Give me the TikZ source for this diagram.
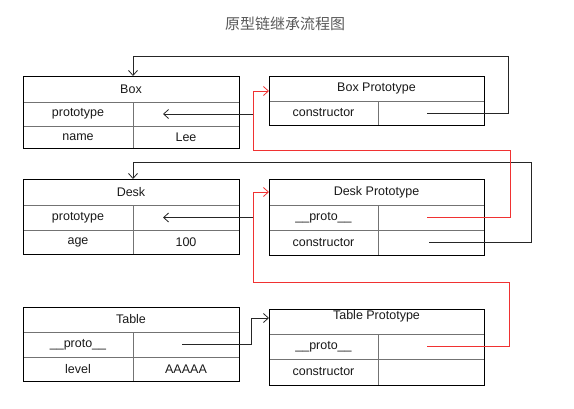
\documentclass[tikz,border=0pt]{standalone}
\usepackage{fontspec}
\setmainfont{Liberation Sans}
\newfontfamily\cjkfont{Noto Sans CJK SC}
\usetikzlibrary{arrows.meta}
\definecolor{linkred}{RGB}{240,50,50}
\tikzset{
  cell/.style={draw=black!55, line width=0.8pt, inner sep=0pt, outer sep=0pt,
    anchor=north west, font=\fontsize{12.5}{14}\selectfont, text=black!90},
  frame/.style={draw=black, line width=0.9pt, inner sep=0pt, outer sep=0pt, anchor=north west},
  conn/.style={draw=black!85, line width=0.8pt},
  redconn/.style={draw=linkred, line width=0.8pt},
  vtip/.style={-{Straight Barb[length=5pt,width=9pt]}}
}
\begin{document}
\begin{tikzpicture}[x=1pt,y=-1pt]
\useasboundingbox (0,0) rectangle (574,408);
\node[font=\cjkfont\fontsize{15}{18}\selectfont, text=black!65] (title) at (285,24) {原型链继承流程图};

% Box
\node[cell, minimum width=216pt, minimum height=26pt] (boxH) at (23,76) {Box};
\node[cell, minimum width=110pt, minimum height=24pt] (boxP1) at (23,102) {prototype};
\node[cell, minimum width=106pt, minimum height=24pt] (boxP2) at (133,102) {};
\node[cell, minimum width=110pt, minimum height=22pt] (boxN1) at (23,126) {name};
\node[cell, minimum width=106pt, minimum height=22pt] (boxN2) at (133,126) {Lee};
\node[frame, minimum width=216pt, minimum height=72pt] (boxF) at (23,76) {};

% Box Prototype
\node[cell, minimum width=215pt, minimum height=25pt] (bpH) at (269,76) {Box Prototype};
\node[cell, minimum width=109pt, minimum height=24pt] (bpC1) at (269,101) {constructor};
\node[cell, minimum width=106pt, minimum height=24pt] (bpC2) at (378,101) {};
\node[frame, minimum width=215pt, minimum height=49pt] (bpF) at (269,76) {};

% Desk
\node[cell, minimum width=216pt, minimum height=26pt] (deskH) at (23,179) {Desk};
\node[cell, minimum width=110pt, minimum height=25pt] (deskP1) at (23,205) {prototype};
\node[cell, minimum width=106pt, minimum height=25pt] (deskP2) at (133,205) {};
\node[cell, minimum width=110pt, minimum height=24pt] (deskA1) at (23,230) {age};
\node[cell, minimum width=106pt, minimum height=24pt] (deskA2) at (133,230) {100};
\node[frame, minimum width=216pt, minimum height=75pt] (deskF) at (23,179) {};

% Desk Prototype
\node[cell, minimum width=215pt, minimum height=26pt] (dpH) at (269,179) {Desk Prototype};
\node[cell, minimum width=109pt, minimum height=25pt] (dpP1) at (269,205) {\_\_proto\_\_};
\node[cell, minimum width=106pt, minimum height=25pt] (dpP2) at (378,205) {};
\node[cell, minimum width=109pt, minimum height=25pt] (dpC1) at (269,230) {constructor};
\node[cell, minimum width=106pt, minimum height=25pt] (dpC2) at (378,230) {};
\node[frame, minimum width=215pt, minimum height=76pt] (dpF) at (269,179) {};

% Table
\node[cell, minimum width=216pt, minimum height=25pt] (tH) at (23,307) {Table};
\node[cell, minimum width=110pt, minimum height=25pt] (tP1) at (23,332) {\_\_proto\_\_};
\node[cell, minimum width=106pt, minimum height=25pt] (tP2) at (133,332) {};
\node[cell, minimum width=110pt, minimum height=24pt] (tL1) at (23,357) {level};
\node[cell, minimum width=106pt, minimum height=24pt] (tL2) at (133,357) {AAAAA};
\node[frame, minimum width=216pt, minimum height=74pt] (tF) at (23,307) {};

% Table Prototype
\node[cell, minimum width=215pt, minimum height=25pt] (tpH) at (269,309) {};
\node[font=\fontsize{12.5}{14}\selectfont, text=black!90, inner sep=0pt] (tpHt) at ([yshift=-7pt]tpH.north) {Table Prototype};
\node[cell, minimum width=109pt, minimum height=25pt] (tpP1) at (269,334) {\_\_proto\_\_};
\node[cell, minimum width=106pt, minimum height=25pt] (tpP2) at (378,334) {};
\node[cell, minimum width=109pt, minimum height=26pt] (tpC1) at (269,359) {constructor};
\node[cell, minimum width=106pt, minimum height=26pt] (tpC2) at (378,359) {};
\node[frame, minimum width=215pt, minimum height=76pt] (tpF) at (269,309) {};

% helper coordinates
\coordinate (busx) at (253,0);
\coordinate (tbend) at (251,0);
\coordinate (k1) at (508,56);
\coordinate (k2) at (531,162);
\coordinate (r1) at (510,150);
\coordinate (r2) at (509,282);
\coordinate (bpIn) at ([yshift=-2.5pt]bpH.west);
\coordinate (dpIn) at (dpH.west);
\coordinate (tpIn) at ([yshift=3.5pt]tpH.west);
\coordinate (boxTip) at ([xshift=-23pt]boxP2.center);
\coordinate (deskTip) at ([xshift=-23pt]deskP2.center);

% prototype pointers
\draw[conn, vtip] (busx |- boxP2.center) -- (boxTip);
\draw[conn, vtip] (busx |- deskP2.center) -- (deskTip);

% constructor loops
\draw[conn, vtip] ([xshift=-4pt]bpC2.center) -| (k1) -| (boxH.north -| boxP2.west);
\draw[conn, vtip] ([xshift=-2pt]dpC2.center) -| (k2) -| (deskH.north -| deskP2.west);

% __proto__ links
\draw[redconn, vtip] ([xshift=-4pt]dpP2.center) -| (r1) -| (busx |- bpIn) -- (bpIn);
\draw[redconn, vtip] ([xshift=-4pt]tpP2.center) -| (r2) -| (busx |- dpIn) -- (dpIn);
\draw[conn, vtip] ([xshift=-4pt]tP2.center) -| (tbend |- tpIn) -- (tpIn);
\end{tikzpicture}
\end{document}
